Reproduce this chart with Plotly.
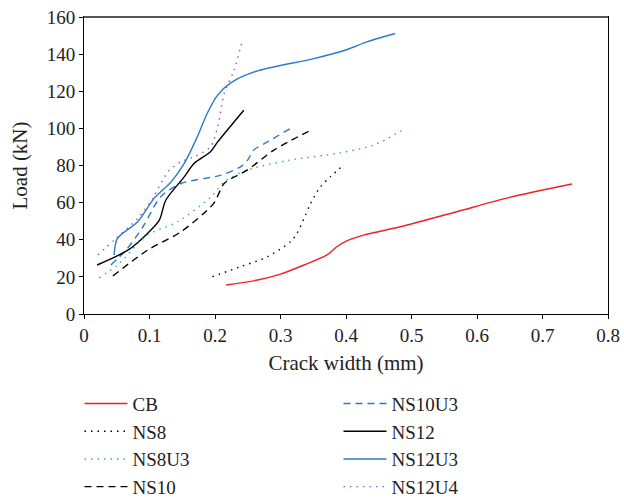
import plotly.graph_objects as go

# Data (crack width mm, load kN)
cb_x = [0.217, 0.265, 0.300, 0.336, 0.371, 0.386, 0.402, 0.427, 0.488, 0.569, 0.650, 0.745]
cb_y = [15.6, 18.3, 21.5, 26.4, 31.8, 36.2, 39.5, 42.5, 47.4, 55.1, 62.8, 70.0]

ns8_x = [0.196, 0.239, 0.280, 0.315, 0.325, 0.336, 0.346, 0.361, 0.376, 0.396]
ns8_y = [20.1, 25.5, 30.8, 38.9, 43.4, 51.5, 59.6, 68.5, 73.9, 80.2]

ns8u3_x = [0.023, 0.051, 0.097, 0.143, 0.194, 0.214, 0.249, 0.315, 0.391, 0.442, 0.488]
ns8u3_y = [19.5, 26.4, 42.5, 49.7, 63.1, 71.2, 77.5, 82.9, 86.8, 91.0, 99.4]

ns10_x = [0.044, 0.097, 0.148, 0.198, 0.214, 0.249, 0.290, 0.346]
ns10_y = [20.5, 34.4, 44.3, 59.6, 70.3, 77.5, 88.3, 99.0]

ns10u3_x = [0.041, 0.064, 0.090, 0.117, 0.148, 0.209, 0.239, 0.250, 0.259, 0.280, 0.315]
ns10u3_y = [26.4, 34.4, 47.0, 63.1, 70.3, 74.8, 79.3, 83.0, 88.3, 92.7, 99.9]

ns12_x = [0.020, 0.067, 0.097, 0.115, 0.125, 0.153, 0.168, 0.193, 0.204, 0.244]
ns12_y = [26.4, 34.4, 43.4, 50.6, 61.4, 73.9, 81.1, 87.4, 92.7, 109.8]

ns12u3_x = [0.046, 0.051, 0.082, 0.107, 0.133, 0.153, 0.173, 0.188, 0.204, 0.224, 0.265, 0.351, 0.402, 0.432, 0.475]
ns12u3_y = [31.8, 40.7, 49.7, 62.3, 71.2, 81.1, 95.4, 108.0, 117.9, 124.5, 131.0, 137.6, 142.5, 146.6, 151.1]

ns12u4_x = [0.021, 0.046, 0.082, 0.105, 0.128, 0.148, 0.168, 0.193, 0.204, 0.214, 0.229, 0.242]
ns12u4_y = [31.8, 39.8, 51.5, 62.3, 76.6, 82.0, 84.7, 90.0, 100.8, 118.8, 131.3, 147.8]

x_ticks = [0, 0.1, 0.2, 0.3, 0.4, 0.5, 0.6, 0.7, 0.8]
y_ticks = [0, 20, 40, 60, 80, 100, 120, 140, 160]

DOT = "1.5px,5px"
DASH = "7px,5px"

series = [
    ("CB", cb_x, cb_y, "#f0202a", "solid"),
    ("NS10U3", ns10u3_x, ns10u3_y, "#2a7cc7", DASH),
    ("NS8", ns8_x, ns8_y, "#000000", DOT),
    ("NS12", ns12_x, ns12_y, "#000000", "solid"),
    ("NS8U3", ns8u3_x, ns8u3_y, "#3cb56a", DOT),
    ("NS12U3", ns12u3_x, ns12u3_y, "#2a7cc7", "solid"),
    ("NS10", ns10_x, ns10_y, "#000000", DASH),
    ("NS12U4", ns12u4_x, ns12u4_y, "#8a5cc8", DOT),
]

fig = go.Figure()
for name, xs, ys, color, dash in series:
    fig.add_trace(go.Scatter(
        x=xs, y=ys, name=name, mode="lines",
        line=dict(color=color, width=1.4, dash=dash, shape="spline", smoothing=0.8),
    ))

FONT = "Liberation Serif"
fig.update_layout(
    width=624, height=502,
    margin=dict(l=83.5, r=15.7, t=16.7, b=187.7, autoexpand=False),
    paper_bgcolor="white", plot_bgcolor="white",
    font=dict(family=FONT, size=18, color="#222222"),
    showlegend=True,
    legend=dict(
        orientation="h", x=-0.0086, xanchor="left", y=-0.238, yanchor="top",
        entrywidth=201, entrywidthmode="pixels", itemwidth=43,
        font=dict(family=FONT, size=19, color="#222222"),
        bgcolor="rgba(0,0,0,0)",
    ),
    xaxis=dict(
        range=[0, 0.8], tickvals=x_ticks, ticktext=[str(v) for v in x_ticks],
        showgrid=False, zeroline=False, showline=True, linecolor="#000000", linewidth=1,
        mirror=True, ticks="outside", ticklen=4, tickcolor="#000000",
        title=dict(text="Crack width (mm)", font=dict(family=FONT, size=21), standoff=10),
        tickfont=dict(family=FONT, size=19),
    ),
    yaxis=dict(
        range=[0, 160], tickvals=y_ticks,
        showgrid=False, zeroline=False, showline=True, linecolor="#000000", linewidth=1,
        mirror=True, ticks="outside", ticklen=4, tickcolor="#000000",
        title=dict(text="Load (kN)", font=dict(family=FONT, size=21), standoff=13),
        tickfont=dict(family=FONT, size=19),
    ),
    shapes=[dict(type="line", xref="paper", yref="paper", x0=0, x1=1, y0=1, y1=1,
                 line=dict(color="#555555", width=2))],
)

fig.write_html("out.html")
